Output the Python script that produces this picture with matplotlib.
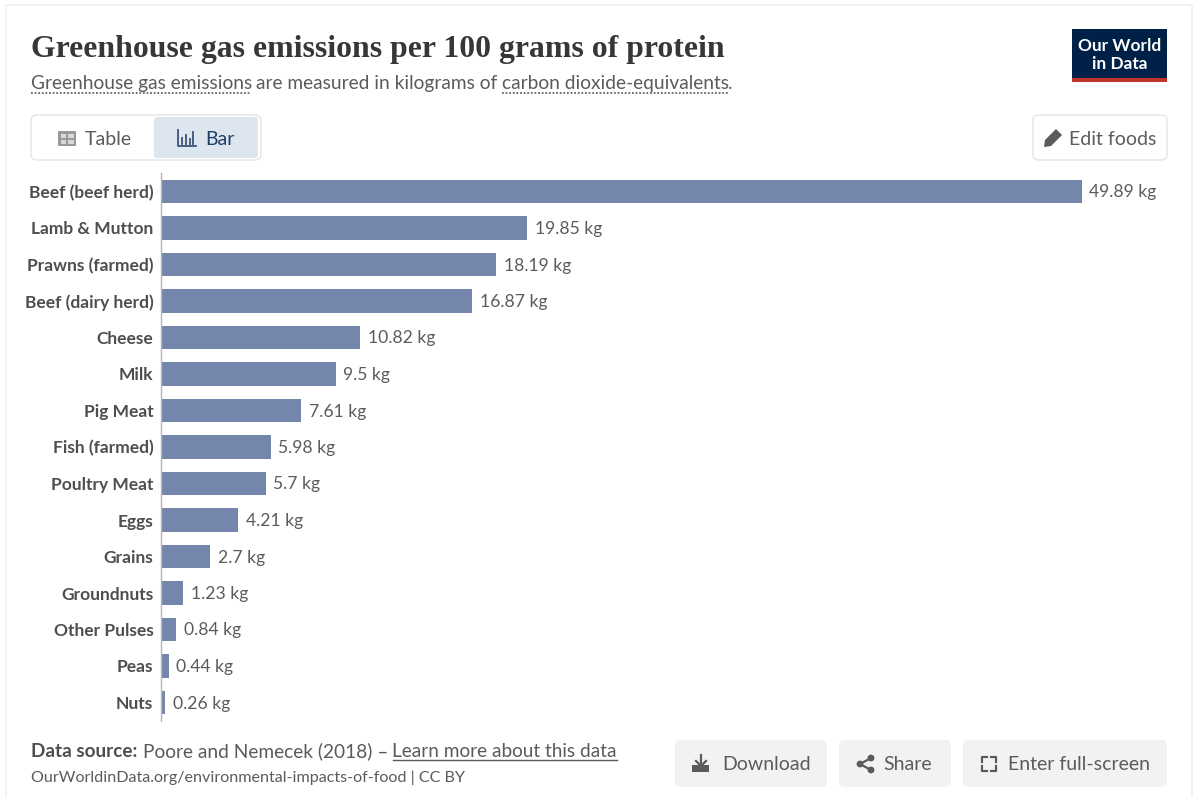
import matplotlib
matplotlib.use('Agg')
import matplotlib.pyplot as plt
from matplotlib.patches import FancyBboxPatch, Rectangle, Circle, Polygon

foods = ['Beef (beef herd)', 'Lamb & Mutton', 'Prawns (farmed)', 'Beef (dairy herd)', 'Cheese',
         'Milk', 'Pig Meat', 'Fish (farmed)', 'Poultry Meat', 'Eggs', 'Grains', 'Groundnuts',
         'Other Pulses', 'Peas', 'Nuts']
emissions = [49.89, 19.85, 18.19, 16.87, 10.82, 9.5, 7.61, 5.98, 5.7, 4.21, 2.7, 1.23, 0.84, 0.44, 0.26]

BAR = '#7586ad'
TEXT = '#5b5b5b'
DARK = '#4e4e4e'
NAVY = '#002147'
W, H = 1200, 797

plt.rcParams['font.family'] = ['Lato', 'DejaVu Sans']
fig = plt.figure(figsize=(W / 100, H / 100), dpi=100)

# page overlay, in pixels
page = fig.add_axes([0, 0, 1, 1])
page.set_xlim(0, W)
page.set_ylim(H, 0)
page.axis('off')


def button(x, y, w, h, face, edge='none', r=6):
    page.add_patch(FancyBboxPatch((x + r, y + r), w - 2 * r, h - 2 * r, boxstyle='round,pad=%d' % r,
                                  fc=face, ec=edge, lw=1))


# card outline
page.plot([6, 6, 1192, 1192], [797, 5, 5, 797], color='#f0f0f0', lw=1.2)

# header
page.text(31, 49.5, 'Greenhouse gas emissions per 100 grams of protein', fontsize=22.9, fontweight='bold',
          family='Liberation Serif', color='#373737', va='center')
page.text(31, 83.5, 'Greenhouse gas emissions', fontsize=13.8, color=TEXT, va='center')
page.text(256, 83.5, 'are measured in kilograms of', fontsize=13.8, color=TEXT, va='center')
page.text(501.5, 83.5, 'carbon dioxide-equivalents', fontsize=13.8, color=TEXT, va='center')
page.text(728, 83.5, '.', fontsize=13.8, color=TEXT, va='center')
page.plot([31, 251], [92.5, 92.5], color='#666666', lw=1.3, ls=(0, (1, 1)))
page.plot([502, 728], [92.5, 92.5], color='#666666', lw=1.3, ls=(0, (1, 1)))

# logo
page.add_patch(Rectangle((1072, 29), 95, 53, fc=NAVY, ec='none'))
page.add_patch(Rectangle((1072, 78), 95, 4, fc='#c0342b', ec='none'))
page.text(1119.5, 46, 'Our World', color='white', fontsize=12.4, fontweight='bold', ha='center', va='center')
page.text(1119.5, 64, 'in Data', color='white', fontsize=12.4, fontweight='bold', ha='center', va='center')

# tabs
button(31, 115, 230, 45, 'white', '#e4e4e4')
button(154, 117, 104, 41, '#dde5ef', r=3)
page.add_patch(FancyBboxPatch((59, 132), 16, 13, boxstyle='round,pad=1', fc='#999999', ec='none'))
for rx, ry in [(60.5, 133.5), (68, 133.5), (60.5, 139.5), (68, 139.5)]:
    page.add_patch(Rectangle((rx, ry), 5.5, 4, fc='#d8d8d8', ec='none'))
page.text(85, 139.5, 'Table', fontsize=14.0, color=TEXT, va='center')
page.plot([178, 178, 196], [130, 146, 146], color='#3a5378', lw=1.3)
for bx, top in [(182, 138), (186, 135), (189.5, 139), (193, 132)]:
    page.plot([bx, bx], [top, 143.5], color='#3a5378', lw=1.3)
page.text(205.5, 139.5, 'Bar', fontsize=14.0, color='#1d3d63', va='center')

button(1033, 115, 134, 45, 'white', '#e4e4e4')
page.add_patch(Polygon([(1044, 147), (1045, 140), (1056, 129), (1062, 135), (1051, 146)], fc=TEXT, ec='none'))
page.text(1069, 139.5, 'Edit foods', fontsize=14.0, color=TEXT, va='center')

# bars
ax = fig.add_axes([160.5 / W, 1 - 720.75 / H, 1000 / W, 547.5 / H])
ax.patch.set_alpha(0)
ax.barh(foods, emissions, height=0.645, color=BAR)
ax.set_xlim(0, 1000 / 18.47)
ax.set_ylim(14.5, -0.5)
ax.xaxis.set_visible(False)
for side in ['top', 'right', 'bottom']:
    ax.spines[side].set_visible(False)
ax.spines['left'].set_color('#b5b5b5')
ax.spines['left'].set_linewidth(1)
ax.tick_params(axis='y', length=0, pad=5.2)
for label in ax.get_yticklabels():
    label.set_fontsize(12.5)
    label.set_fontweight('bold')
    label.set_color(DARK)
for i, v in enumerate(emissions):
    ax.annotate('%g kg' % v, (v, i), xytext=(7.5, -1), textcoords='offset pixels', va='center',
                fontsize=12.6, color=TEXT)

# footer
page.text(31, 751.5, 'Data source:', fontsize=13.6, fontweight='bold', color=DARK, va='center')
page.text(143, 751.5, 'Poore and Nemecek (2018) –', fontsize=13.75, color=TEXT, va='center')
page.text(392.5, 751.5, 'Learn more about this data', fontsize=13.7, color=TEXT, va='center')
page.plot([393, 617], [760, 760], color=TEXT, lw=1)
page.text(31, 778, 'OurWorldinData.org/environmental-impacts-of-food | CC BY', fontsize=11.6, color=TEXT, va='center')

button(675, 740, 152, 47, '#f2f2f2')
page.add_patch(Rectangle((692, 765), 17, 7, fc=TEXT, ec='none'))
page.plot([701, 701], [755, 766], color=TEXT, lw=1.6)
page.plot([696, 701, 706], [761, 766, 761], color=TEXT, lw=1.6)
page.text(722, 765, 'Download', fontsize=14.0, color=TEXT, va='center')

button(839, 740, 112, 47, '#f2f2f2')
page.plot([871, 860, 871], [758, 764, 770], color=TEXT, lw=1.6)
for cx, cy in [(871, 758), (860, 764), (871, 770)]:
    page.add_patch(Circle((cx, cy), 3.4, fc=TEXT, ec='none'))
page.text(883, 765, 'Share', fontsize=14.0, color=TEXT, va='center')

button(963, 740, 204, 47, '#f2f2f2')
for xs, ys in [([982, 982, 987], [762, 757, 757]), ([991, 996, 996], [757, 757, 762]),
               ([982, 982, 987], [766, 771, 771]), ([991, 996, 996], [771, 771, 766])]:
    page.plot(xs, ys, color=TEXT, lw=1.6)
page.text(1008, 765, 'Enter full-screen', fontsize=14.0, color=TEXT, va='center')

fig.savefig('out.png', dpi=100)
